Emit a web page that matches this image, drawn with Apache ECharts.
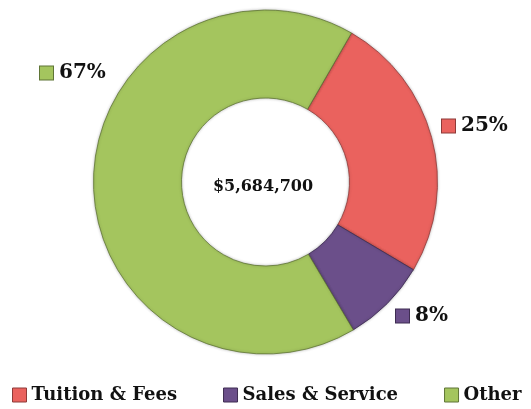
<!DOCTYPE html>
<html>
<head>
<meta charset="utf-8">
<script src="https://cdn.jsdelivr.net/npm/echarts@6/dist/echarts.min.js"></script>
<style>
  html, body { margin: 0; padding: 0; background: #ffffff; }
  #chart { width: 531px; height: 409px; }
</style>
</head>
<body>
<div id="chart"></div>
<script>
// Revenue sources, in dollars
const categories = ['Tuition & Fees', 'Sales & Service', 'Other'];
const amounts = [1432000, 452000, 3800700];
const totalLabel = '$5,684,700';

const sliceColors = ['#EA625E', '#6B4F8A', '#A4C55E'];
const sliceBorders = ['#8E3A38', '#3E2D52', '#5F7536'];

// Where each percentage tag sits around the ring
const labelSpots = [
  { x: 442, y: 126 },
  { x: 396, y: 316 },
  { x: 40, y: 73 }
];

const FONT = '"DejaVu Serif", "Liberation Serif", serif';

const chart = echarts.init(document.getElementById('chart'), null, { renderer: 'canvas' });

const data = categories.map((name, i) => ({
  name: name,
  value: amounts[i],
  itemStyle: {
    color: sliceColors[i],
    borderColor: sliceBorders[i],
    borderWidth: 0.8
  },
  label: {
    rich: {
      box: {
        width: 13,
        height: 13,
        backgroundColor: sliceColors[i],
        borderColor: sliceBorders[i],
        borderWidth: 1
      },
      pct: {
        fontFamily: FONT,
        fontWeight: 'bold',
        fontSize: 20,
        color: '#111111',
        padding: [0, 0, 0, 6]
      }
    }
  }
}));

chart.setOption({
  animation: false,
  backgroundColor: '#ffffff',
  title: {
    text: totalLabel,
    left: 258,
    top: 174,
    textAlign: 'center',
    textStyle: {
      fontFamily: FONT,
      fontWeight: 'bold',
      fontSize: 16,
      color: '#111111'
    }
  },
  legend: {
    bottom: 0,
    left: 7,
    icon: 'rect',
    itemWidth: 14,
    itemHeight: 14,
    itemGap: 46,
    selectedMode: false,
    data: categories.map((c, i) => ({
      name: c,
      itemStyle: { color: sliceColors[i], borderColor: sliceBorders[i], borderWidth: 1 }
    })),
    textStyle: {
      fontFamily: FONT,
      fontWeight: 'bold',
      fontSize: 18,
      color: '#111111',
      padding: [0, 0, 0, 0]
    }
  },
  series: [{
    type: 'pie',
    center: [265.5, 182],
    radius: [84, 172],
    startAngle: 60,
    clockwise: true,
    percentPrecision: 0,
    data: data,
    itemStyle: {
      shadowBlur: 3,
      shadowColor: 'rgba(0,0,0,0.25)'
    },
    emphasis: { disabled: true },
    labelLine: { show: false },
    label: {
      show: true,
      position: 'outside',
      overflow: 'none',
      formatter: '{box|}{pct|{d}%}'
    },
    labelLayout: function (params) {
      const p = labelSpots[params.dataIndex];
      return { x: p.x, y: p.y, align: 'left', verticalAlign: 'middle' };
    }
  }]
});
</script>
</body>
</html>
